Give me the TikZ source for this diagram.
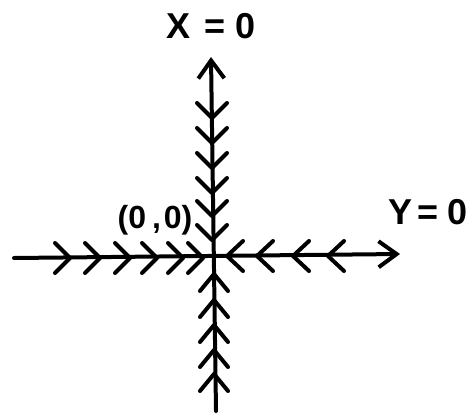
\documentclass[tikz,border=0pt]{standalone}
\usepackage{fontspec}
\setmainfont{Liberation Sans}
\usetikzlibrary{arrows.meta}
\begin{document}
\begin{tikzpicture}[x=1pt,y=-1pt,
  ink/.style={line width=4pt,line cap=round,line join=round},
  axis/.style={ink,-{Straight Barb[length=18pt,width=26pt,line width=4pt]}},
  lbl/.style={font=\fontsize{36}{38}\selectfont\bfseries,inner sep=0pt}]
\useasboundingbox (0,0) rectangle (470,415);
\coordinate (O) at (213,257);
\coordinate (top) at (211,57);
\coordinate (bot) at (216,411);
\coordinate (left) at (14,258);
\coordinate (right) at (400,254);
\draw[axis] (bot) -- (top);
\draw[axis] (left) -- (right);
% upper chevrons pointing down
\foreach \y in {118,143,168,193,216,240}
  \draw[ink] (197,\y-15) -- (212,\y) -- (227,\y-15);
% lower chevrons pointing up
\foreach \y in {274,300,325,350,374}
  \draw[ink] (200,\y+17) -- (214,\y) -- (228,\y+17);
% left chevrons pointing right
\foreach \x in {70,100,130,157,183,203}
  \draw[ink] (\x-15,243) -- (\x,258) -- (\x-15,273);
% right chevrons pointing left
\foreach \x in {227,257,293,328}
  \draw[ink] (\x+16,241) -- (\x,256) -- (\x+16,271);
\node[lbl] (xl) at (211,26) {X\hspace{14pt}=\hspace{10pt}0};
\node[lbl] (yl) at (428,212) {Y\hspace{5pt}=\hspace{8pt}0};
\node[lbl,font=\fontsize{32}{34}\selectfont\bfseries] (ol) at (155,220) {(0\hspace{6pt},\hspace{3pt}0)};
\end{tikzpicture}
\end{document}
